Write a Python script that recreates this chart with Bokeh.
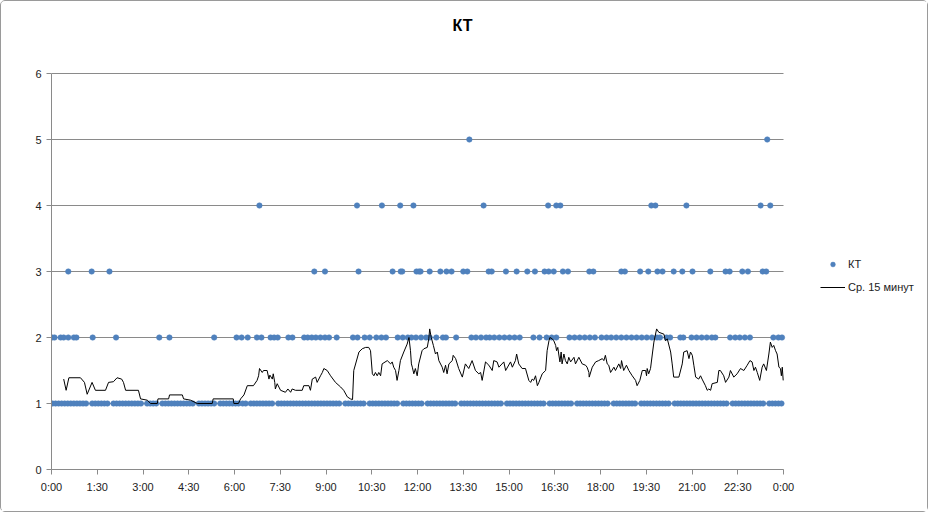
from bokeh.plotting import figure
from bokeh.models import Range1d, FixedTicker, Legend, LegendItem, ColumnDataSource, Label
from bokeh.embed import file_html
from bokeh.resources import INLINE

# ---------------- data ----------------
title_text = "КТ"
series_names = ["КТ", "Ср. 15 минут"]

x_tick_hours = [0, 1.5, 3, 4.5, 6, 7.5, 9, 10.5, 12, 13.5, 15, 16.5, 18, 19.5, 21, 22.5, 24]
x_tick_labels = ["0:00", "1:30", "3:00", "4:30", "6:00", "7:30", "9:00", "10:30", "12:00",
                 "13:30", "15:00", "16:30", "18:00", "19:30", "21:00", "22:30", "0:00"]
y_ticks = [0, 1, 2, 3, 4, 5, 6]

# minutes after midnight of each measurement, grouped by KT value
kt1_minutes = [
    2, 8, 14, 20, 26, 32, 38, 44, 50, 56, 62, 68, 80, 86, 92, 98, 104, 110, 122, 128,
    134, 140, 146, 152, 158, 164, 170, 176, 188, 194, 200, 206, 218, 224, 230, 236, 242, 248, 254, 260,
    266, 272, 278, 290, 296, 302, 308, 314, 320, 332, 338, 344, 350, 356, 362, 368, 376, 382, 392, 398,
    404, 410, 416, 422, 428, 434, 446, 452, 458, 464, 470, 476, 482, 488, 494, 500, 506, 512, 518, 524,
    530, 536, 542, 548, 554, 560, 566, 578, 584, 590, 596, 602, 608, 614, 626, 632, 638, 644, 650, 656,
    662, 668, 674, 680, 692, 698, 704, 710, 716, 722, 728, 740, 746, 752, 758, 764, 770, 776, 782, 788,
    794, 806, 812, 818, 824, 830, 836, 842, 848, 854, 860, 866, 872, 878, 884, 896, 902, 908, 914, 920,
    926, 932, 938, 944, 950, 956, 962, 968, 980, 986, 992, 998, 1004, 1010, 1016, 1022, 1034, 1040, 1046, 1052,
    1058, 1064, 1070, 1076, 1082, 1088, 1094, 1106, 1112, 1118, 1124, 1130, 1136, 1142, 1148, 1160, 1166, 1172, 1178, 1184,
    1190, 1196, 1202, 1208, 1214, 1226, 1232, 1238, 1244, 1250, 1256, 1262, 1268, 1274, 1280, 1286, 1292, 1298, 1304, 1310,
    1316, 1322, 1328, 1340, 1346, 1352, 1358, 1364, 1370, 1376, 1382, 1388, 1394, 1400, 1412, 1418, 1424, 1430, 1436,
]
kt2_minutes = [
    1, 6, 18, 24, 33, 44, 49, 81, 127, 212, 232, 320, 364, 374, 386, 404, 413, 431, 438, 445,
    466, 474, 497, 504, 512, 520, 529, 538, 546, 561, 593, 602, 616, 626, 639, 649, 658, 681, 691, 701,
    708, 717, 727, 737, 744, 757, 770, 776, 796, 826, 835, 845, 855, 862, 871, 881, 891, 901, 911, 921,
    948, 960, 974, 984, 993, 1019, 1029, 1039, 1049, 1059, 1069, 1082, 1092, 1101, 1111, 1121, 1131, 1141,
    1151, 1161, 1171, 1181, 1191, 1197, 1210, 1217, 1237, 1243, 1259, 1269, 1279, 1289, 1299, 1306,
    1335, 1345, 1354, 1364, 1374, 1420, 1430, 1437,
]
kt3_minutes = [
    33, 79, 114, 517, 538, 604, 671, 687, 690, 718, 723, 726, 744, 765, 777, 787, 810, 818, 860, 866,
    894, 915, 936, 951, 970, 978, 988, 1006, 1016, 1058, 1066, 1121, 1128, 1158, 1174, 1192, 1202, 1224,
    1241, 1261, 1296, 1326, 1334, 1359, 1370, 1399, 1406,
]
kt4_minutes = [409, 601, 650, 686, 712, 850, 977, 993, 1001, 1180, 1188, 1249, 1395, 1414]
kt5_minutes = [822, 1408]

# 15-minute moving average (hours, value)
avg_hours = [
    0.40, 0.48, 0.57, 0.95, 1.08, 1.17, 1.33, 1.44, 1.77, 1.87, 2.03, 2.15, 2.30, 2.36, 2.43, 2.85,
    2.92, 3.14, 3.25, 3.47, 3.49, 3.84, 3.87, 4.29, 4.33, 4.56, 4.78, 5.27, 5.30, 5.96, 5.98, 6.13,
    6.20, 6.31, 6.42, 6.62, 6.74, 6.79, 6.82, 6.91, 6.95, 7.07, 7.13, 7.16, 7.24, 7.27, 7.32, 7.34,
    7.40, 7.51, 7.67, 7.75, 7.84, 7.89, 8.00, 8.22, 8.27, 8.44, 8.49, 8.55, 8.66, 8.71, 8.82, 8.88,
    8.93, 9.04, 9.15, 9.31, 9.48, 9.58, 9.70, 9.80, 9.87, 9.91, 10.08, 10.19, 10.30, 10.40, 10.46, 10.52,
    10.57, 10.62, 10.68, 10.73, 10.79, 10.84, 11.01, 11.12, 11.17, 11.22, 11.28, 11.33, 11.39, 11.44, 11.55, 11.66,
    11.72, 11.77, 11.80, 11.83, 11.88, 11.93, 11.99, 12.04, 12.15, 12.21, 12.32, 12.37, 12.40, 12.45, 12.52, 12.59,
    12.65, 12.70, 12.81, 12.86, 12.92, 12.97, 13.03, 13.14, 13.17, 13.25, 13.35, 13.47, 13.57, 13.68, 13.79, 13.90,
    14.01, 14.07, 14.12, 14.23, 14.34, 14.45, 14.50, 14.61, 14.67, 14.83, 14.89, 15.05, 15.11, 15.21, 15.25, 15.32,
    15.43, 15.54, 15.65, 15.71, 15.76, 15.81, 15.87, 15.93, 15.98, 16.09, 16.20, 16.25, 16.31, 16.34, 16.42, 16.47,
    16.53, 16.56, 16.60, 16.63, 16.67, 16.71, 16.74, 16.80, 16.85, 16.91, 16.96, 17.02, 17.13, 17.18, 17.29, 17.40,
    17.51, 17.56, 17.62, 17.63, 17.73, 17.84, 17.94, 18.06, 18.11, 18.16, 18.22, 18.27, 18.33, 18.44, 18.49, 18.60,
    18.66, 18.69, 18.76, 18.85, 18.93, 19.04, 19.15, 19.20, 19.29, 19.37, 19.48, 19.51, 19.53, 19.58, 19.64, 19.70,
    19.75, 19.84, 19.91, 20.08, 20.13, 20.19, 20.30, 20.35, 20.40, 20.57, 20.68, 20.73, 20.84, 20.90, 20.95, 21.01,
    21.06, 21.12, 21.22, 21.28, 21.33, 21.44, 21.50, 21.55, 21.61, 21.66, 21.83, 21.88, 21.93, 22.04, 22.10, 22.21,
    22.26, 22.37, 22.48, 22.59, 22.70, 22.81, 22.90, 22.97, 23.03, 23.08, 23.14, 23.22, 23.30, 23.35, 23.44, 23.52,
    23.57, 23.63, 23.68, 23.74, 23.79, 23.85, 23.90, 23.93, 23.96, 23.99,
]
avg_values = [
    1.37, 1.20, 1.39, 1.39, 1.32, 1.14, 1.32, 1.20, 1.20, 1.32, 1.33, 1.39, 1.37, 1.32, 1.20, 1.20,
    1.07, 1.05, 1.00, 1.00, 1.07, 1.07, 1.13, 1.13, 1.07, 1.05, 1.00, 1.00, 1.07, 1.07, 1.00, 1.00,
    1.07, 1.13, 1.27, 1.27, 1.35, 1.42, 1.53, 1.47, 1.50, 1.50, 1.37, 1.43, 1.37, 1.45, 1.32, 1.22,
    1.30, 1.20, 1.17, 1.22, 1.17, 1.22, 1.20, 1.20, 1.27, 1.27, 1.20, 1.37, 1.40, 1.32, 1.42, 1.47,
    1.53, 1.50, 1.42, 1.32, 1.25, 1.20, 1.10, 1.07, 1.06, 1.50, 1.78, 1.83, 1.85, 1.85, 1.80, 1.45,
    1.42, 1.47, 1.42, 1.47, 1.42, 1.60, 1.65, 1.60, 1.63, 1.55, 1.50, 1.35, 1.50, 1.65, 1.78, 1.90,
    2.00, 1.80, 1.60, 1.55, 1.45, 1.53, 1.42, 1.60, 1.80, 1.83, 1.85, 1.98, 2.13, 2.00, 1.88, 1.75,
    1.78, 1.65, 1.55, 1.47, 1.58, 1.45, 1.60, 1.65, 1.73, 1.68, 1.53, 1.40, 1.60, 1.53, 1.65, 1.50,
    1.45, 1.47, 1.35, 1.63, 1.58, 1.50, 1.65, 1.63, 1.55, 1.63, 1.50, 1.63, 1.55, 1.65, 1.75, 1.60,
    1.53, 1.53, 1.35, 1.32, 1.37, 1.35, 1.42, 1.27, 1.32, 1.45, 1.50, 1.80, 1.95, 2.00, 1.98, 1.95,
    1.88, 1.80, 1.85, 1.75, 1.63, 1.78, 1.60, 1.75, 1.65, 1.60, 1.70, 1.63, 1.70, 1.60, 1.70, 1.60,
    1.58, 1.55, 1.47, 1.40, 1.55, 1.63, 1.65, 1.68, 1.65, 1.73, 1.60, 1.58, 1.47, 1.55, 1.50, 1.60,
    1.53, 1.65, 1.50, 1.58, 1.50, 1.42, 1.35, 1.27, 1.35, 1.50, 1.50, 1.42, 1.53, 1.45, 1.53, 1.75,
    1.93, 2.13, 2.08, 2.05, 1.95, 1.98, 1.78, 1.60, 1.40, 1.40, 1.60, 1.78, 1.80, 1.68, 1.78, 1.73,
    1.58, 1.40, 1.37, 1.42, 1.37, 1.27, 1.20, 1.22, 1.20, 1.30, 1.32, 1.50, 1.50, 1.42, 1.32, 1.40,
    1.50, 1.40, 1.45, 1.53, 1.50, 1.58, 1.65, 1.63, 1.50, 1.55, 1.47, 1.35, 1.55, 1.60, 1.50, 1.75,
    1.93, 1.85, 1.88, 1.80, 1.75, 1.55, 1.53, 1.42, 1.55, 1.35,
]

# ---------------- build ----------------
kt_x, kt_y = [], []
for level, mins in ((1, kt1_minutes), (2, kt2_minutes), (3, kt3_minutes),
                    (4, kt4_minutes), (5, kt5_minutes)):
    kt_x += [m / 60 for m in mins]
    kt_y += [level] * len(mins)

FONT = "Liberation Sans"
GRID = "#8a8a8a"
BLUE = "#4F81BD"

W, H = 928, 512
LEFT, BOTTOM = 50, 44
PLOT_W, PLOT_H = 732, 396          # pixels covered by 0..24 h and by 0..6
# the frame is stretched to the right and top edges so the title and legend are not clipped
x_hi = x_tick_hours[-1] * (W - LEFT) / PLOT_W
y_hi = y_ticks[-1] * (H - BOTTOM) / PLOT_H

p = figure(width=W, height=H, output_backend="svg", toolbar_location=None, title=None,
           x_range=Range1d(0, x_hi), y_range=Range1d(y_ticks[0], y_hi),
           min_border_left=LEFT, min_border_right=0, min_border_top=0, min_border_bottom=BOTTOM,
           tools="")
p.styles = {"border": "1px solid #9a9a9a", "border-radius": "5px"}
p.outline_line_color = None
p.background_fill_color = "white"
p.border_fill_color = "white"

p.xgrid.visible = False
p.ygrid.visible = False
# horizontal gridlines only across the 0..24 h plot area
p.segment(x0=[x_tick_hours[0]] * len(y_ticks), x1=[x_tick_hours[-1]] * len(y_ticks),
          y0=y_ticks, y1=y_ticks, line_color=GRID, line_width=1)

p.xaxis.ticker = FixedTicker(ticks=x_tick_hours)
p.xaxis.bounds = (x_tick_hours[0], x_tick_hours[-1])
p.xaxis.major_label_overrides = {t: lab for t, lab in zip(x_tick_hours, x_tick_labels)}
p.yaxis.ticker = FixedTicker(ticks=y_ticks)
p.yaxis.bounds = (y_ticks[0], y_ticks[-1])
for ax in (p.xaxis[0], p.yaxis[0]):
    ax.axis_line_color = GRID
    ax.major_tick_line_color = GRID
    ax.minor_tick_line_color = None
    ax.major_tick_in = 0
    ax.major_tick_out = 5
    ax.major_label_text_font = FONT
    ax.major_label_text_font_size = "11px"
    ax.major_label_text_color = "#222222"
p.xaxis.major_label_standoff = 6
p.yaxis.major_label_standoff = 5

src = ColumnDataSource(dict(x=kt_x, y=kt_y))
r_pts = p.scatter("x", "y", source=src, size=5.5, fill_color=BLUE, line_color=BLUE, line_width=0.5)
r_line = p.line(avg_hours, avg_values, line_color="black", line_width=1)

title = Label(x=411, y=444, x_units="screen", y_units="screen", text=title_text,
              text_font=FONT, text_font_size="16px", text_font_style="bold",
              text_align="center", text_baseline="middle", text_color="black")
p.add_layout(title)

legend = Legend(items=[LegendItem(label=series_names[0], renderers=[r_pts]),
                       LegendItem(label=series_names[1], renderers=[r_line])],
                location=(769, 172), orientation="vertical",
                glyph_width=25, glyph_height=12, label_height=20, spacing=3,
                label_standoff=3, padding=0, margin=0,
                border_line_color=None, background_fill_alpha=0,
                label_text_font=FONT, label_text_font_size="11px", label_text_color="#222222")
p.add_layout(legend, "center")

open("out.html", "w").write(file_html(p, INLINE))
